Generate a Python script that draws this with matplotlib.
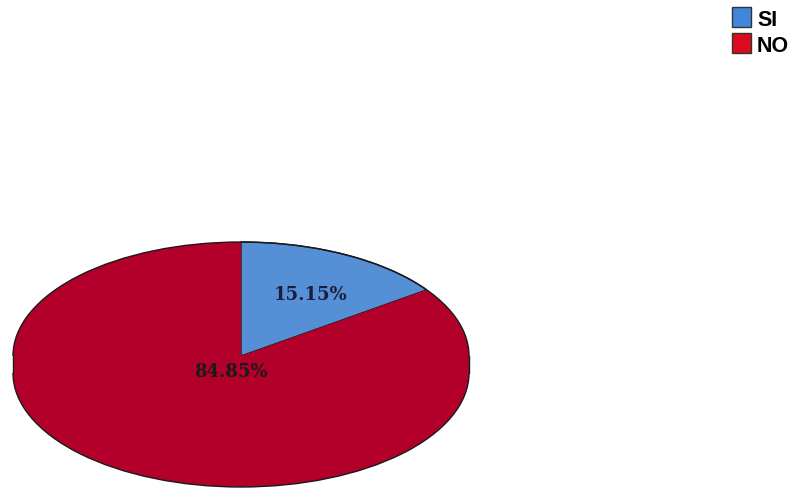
import matplotlib
matplotlib.use('Agg')
import matplotlib.pyplot as plt
from matplotlib.patches import Rectangle, Wedge, Arc

categories = ['SI', 'NO']
values = [15.15, 84.85]
pie_colors = ['#5590d6', '#b2002a']
legend_colors = ['#3f86dc', '#dc0a1e']

W, H = 788, 489
fig = plt.figure(figsize=(W / 100, H / 100), dpi=100)

# pie ellipse geometry (pixels)
cx, cy, rx, ry, depth = 241, 357, 228, 114, 17
d = depth / ry
ax = fig.add_axes([(cx - rx) / W, (H - (cy + ry + depth)) / H,
                   2 * rx / W, (2 * ry + depth) / H])

edge = '#1a1a1a'
# 3D side of the pie
ax.add_patch(Wedge((0, -d), 1, 180, 360, facecolor=pie_colors[1],
                   edgecolor='none', clip_on=False))
ax.add_patch(Rectangle((-1, -d), 2, d, facecolor=pie_colors[1],
                       edgecolor='none', clip_on=False))

wedges, texts, autotexts = ax.pie(
    values, colors=pie_colors, startangle=90, counterclock=False,
    autopct='%.2f%%',
    wedgeprops=dict(edgecolor='none', linewidth=1),
    textprops=dict(family='DejaVu Serif', fontweight='bold', fontsize=13,
                   color='#1c1c3c'))
for w in wedges:
    w.set_clip_on(False)
# outline: blue slice fully, red only along the back rim
wedges[0].set_edgecolor(edge)
ax.add_patch(Arc((0, 0), 2, 2, theta1=0, theta2=180, color=edge, lw=1,
                 clip_on=False))
ax.add_patch(Arc((0, -d), 2, 2, theta1=180, theta2=360, color=edge,
                 lw=1, clip_on=False))
ax.plot([-1, -1], [0, -d], color=edge, lw=1, clip_on=False)
ax.plot([1, 1], [0, -d], color=edge, lw=1, clip_on=False)

autotexts[0].set_position((0.307, 0.544))
autotexts[1].set_position((-0.044, -0.13))
autotexts[1].set_color('#1a1a1a')

ax.set_aspect('auto')
ax.set_xlim(-1, 1)
ax.set_ylim(-1 - d, 1)
ax.axis('off')

# legend
sq_x, sq_w = 732, 19
sq_tops = [8, 34]
sq_h = 20
for cat, col, top in zip(categories, legend_colors, sq_tops):
    fig.add_artist(Rectangle((sq_x / W, (H - top - sq_h) / H), sq_w / W, sq_h / H,
                             transform=fig.transFigure, facecolor=col,
                             edgecolor='#333333', linewidth=1))
    fig.text(757 / W, (H - top - sq_h / 2 - 2) / H, cat, ha='left', va='center',
             family=['Liberation Sans Narrow', 'Liberation Sans'],
             fontweight='bold', fontsize=15.5, color='black')

fig.savefig('out.png', dpi=100)
